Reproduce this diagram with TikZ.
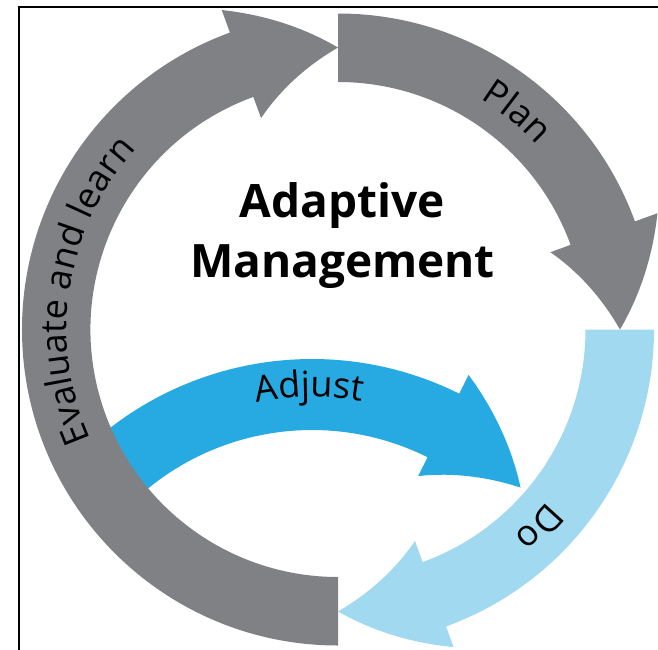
\documentclass[tikz,border=0pt]{standalone}
\usepackage{fontspec}
\setmainfont{Open Sans}
\usetikzlibrary{decorations.text}
\definecolor{ringgray}{RGB}{128,129,133}
\definecolor{dolight}{RGB}{160,217,240}
\definecolor{adjblue}{RGB}{39,170,225}
\newcommand\labfont{\fontsize{36}{40}\selectfont}
\tikzset{
  ringarrow/.style={fill=ringgray},
  doarrow/.style={fill=dolight},
  adjarrow/.style={fill=adjblue},
  ringlabel/.style={decorate, decoration={text along path, text align=center, text={|\labfont|#1}}},
  titletext/.style={font=\fontsize{46}{56}\selectfont\bfseries, inner sep=0pt, anchor=base}
}
\begin{document}
\begin{tikzpicture}[x=1pt,y=1pt]
\useasboundingbox (-338,-319.5) rectangle (320,329.5);
% frame
\draw[line width=1.5pt] (330,322.5) -- (-319.2,322.5) -- (-319.2,-330);
% Adjust arrow (below the ring)
\begin{scope}[shift={(-26,-359.5)}]
\fill[adjarrow] (133:330pt) arc[start angle=133, end angle=63.5, radius=330pt] -- (63.5:351pt)
  -- plot[domain=0:1, samples=12] ({(351-61*\x)*cos(63.5-19.5*\x)},{(351-61*\x)*sin(63.5-19.5*\x)})
  -- plot[domain=1:0, samples=12] ({(238+52*\x)*cos(63.5-19.5*\x)},{(238+52*\x)*sin(63.5-19.5*\x)})
  -- (63.5:259pt) arc[start angle=63.5, end angle=133, radius=259pt] -- cycle;
\path[ringlabel=Adjust] (120.5:292pt) arc[start angle=120.5, end angle=60.5, radius=292pt];
\end{scope}
% Do arrow
\fill[doarrow] (0:316pt) arc[start angle=0, end angle=-70, radius=316pt] -- (-70:338pt)
  -- plot[domain=0:1, samples=12] ({(338-56*\x)*cos(-70-20*\x)},{(338-56*\x)*sin(-70-20*\x)})
  -- plot[domain=1:0, samples=12] ({(225+57*\x)*cos(-70-20*\x)},{(225+57*\x)*sin(-70-20*\x)})
  -- (-70:247.5pt) arc[start angle=-70, end angle=0, radius=247.5pt] -- cycle;
% Plan arrow
\fill[ringarrow] (90:316pt) arc[start angle=90, end angle=20, radius=316pt] -- (20:340pt)
  -- plot[domain=0:1, samples=12] ({(340-58*\x)*cos(20-20*\x)},{(340-58*\x)*sin(20-20*\x)})
  -- plot[domain=1:0, samples=12] ({(226+56*\x)*cos(20-20*\x)},{(226+56*\x)*sin(20-20*\x)})
  -- (20:247.5pt) arc[start angle=20, end angle=90, radius=247.5pt] -- cycle;
% Evaluate and learn arrow
\fill[ringarrow] (270:316pt) arc[start angle=270, end angle=110, radius=316pt] -- (110:340pt)
  -- plot[domain=0:1, samples=12] ({(340-58*\x)*cos(110-20*\x)},{(340-58*\x)*sin(110-20*\x)})
  -- plot[domain=1:0, samples=12] ({(225+57*\x)*cos(110-20*\x)},{(225+57*\x)*sin(110-20*\x)})
  -- (110:247.5pt) arc[start angle=110, end angle=270, radius=247.5pt] -- cycle;
% ring labels
\path[ringlabel=Plan] (81:271pt) arc[start angle=81, end angle=20, radius=271pt];
\path[ringlabel=Do] (-14:271pt) arc[start angle=-14, end angle=-75, radius=271pt];
\path[ringlabel={Evaluate and learn}] (212:271pt) arc[start angle=212, end angle=130, radius=271pt];
% title
\node[titletext] (t1) at (4.5,112.5) {Adaptive};
\node[titletext] (t2) at (4.5,52.5) {Management};
\end{tikzpicture}
\end{document}
